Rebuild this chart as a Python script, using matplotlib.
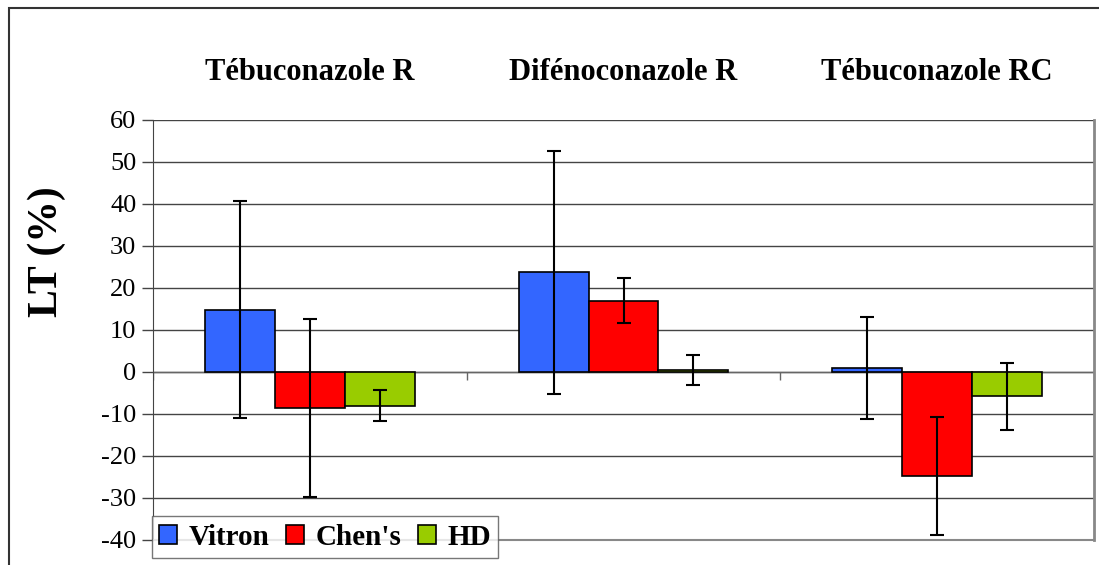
import matplotlib
matplotlib.use('Agg')
import matplotlib.pyplot as plt
from matplotlib.patches import Rectangle
import matplotlib.transforms as mtransforms
import numpy as np

## data
groups = ['Tébuconazole R', 'Difénoconazole R', 'Tébuconazole RC']
series = ['Vitron', "Chen's", 'HD']
vitron = [14.8, 23.7, 1.0]
vitron_err = [25.8, 28.9, 12.2]
chens = [-8.5, 17.0, -24.8]
chens_err = [21.2, 5.3, 14.1]
hd = [-8.0, 0.4, -5.8]
hd_err = [3.6, 3.6, 7.9]
colors = ['#3366FF', '#FF0000', '#99CC00']
yticks = list(range(-40, 61, 10))

plt.rcParams['font.family'] = ['Liberation Serif', 'DejaVu Serif']

fig = plt.figure(figsize=(10.99, 5.65), dpi=100)
ax = fig.add_axes([153/1099, 1-540/565, (1094-153)/1099, (540-120)/565])

## outer chart border (runs off the right and bottom edge)
fig.patches.append(Rectangle((9/1099, -0.1), 1.2, 1-8/565+0.1, transform=fig.transFigure,
                             fill=False, edgecolor='#333333', lw=1.5))

x = np.arange(len(groups))
w = 0.223
vals = [vitron, chens, hd]
errs = [vitron_err, chens_err, hd_err]
for i in range(3):
    ax.bar(x + (i-1)*w, vals[i], w, color=colors[i], edgecolor='black', lw=1.2,
           label=series[i], zorder=3)
    ax.errorbar(x + (i-1)*w, vals[i], yerr=errs[i], fmt='none', ecolor='black',
                elinewidth=1.5, capsize=5, capthick=1.5, zorder=4)

ax.set_xlim(-0.5, len(groups)-0.5)
ax.set_ylim(-40, 60)
ax.set_yticks(yticks)
ax.set_yticklabels([str(t) for t in yticks], fontsize=19)
ax.tick_params(axis='y', length=8, width=1, color='#444444', pad=4)
ax.set_xticks([])
ax.grid(axis='y', color='#444444', lw=1, zorder=0)
ax.set_axisbelow(True)
ax.spines['top'].set_visible(False)
ax.spines['left'].set_color('#444444')
ax.spines['right'].set_color('#888888')
ax.spines['right'].set_linewidth(2)
ax.spines['bottom'].set_color('#888888')
ax.spines['bottom'].set_linewidth(1.5)

## category axis at zero with boundary ticks
ax.axhline(0, color='#666666', lw=1, zorder=2)
ax.vlines(np.arange(len(groups)+1) - 0.5, -2, 0, color='#666666', lw=1, zorder=2)

## group titles above the plot area
tr = mtransforms.blended_transform_factory(ax.transData, fig.transFigure)
for i, g in enumerate(groups):
    ax.text(i, 1-72/565, g, transform=tr, ha='center', va='center',
            fontsize=22, fontweight='bold')

fig.text(47/1099, 1-252/565, 'LT (%)', rotation=90, ha='center', va='center',
         fontsize=30, fontweight='bold')

leg = ax.legend(loc='lower left', bbox_to_anchor=(152/1099, 1-558/565),
                bbox_transform=fig.transFigure, ncol=3, frameon=True, fancybox=False,
                prop={'size': 21, 'weight': 'bold'}, handlelength=0.62, handleheight=0.62,
                handletextpad=0.4, columnspacing=0.55, borderpad=0.25, borderaxespad=0)
leg.get_frame().set_edgecolor('#555555')
leg.get_frame().set_linewidth(1)
leg.set_zorder(10)

fig.savefig('out.png', dpi=100)
